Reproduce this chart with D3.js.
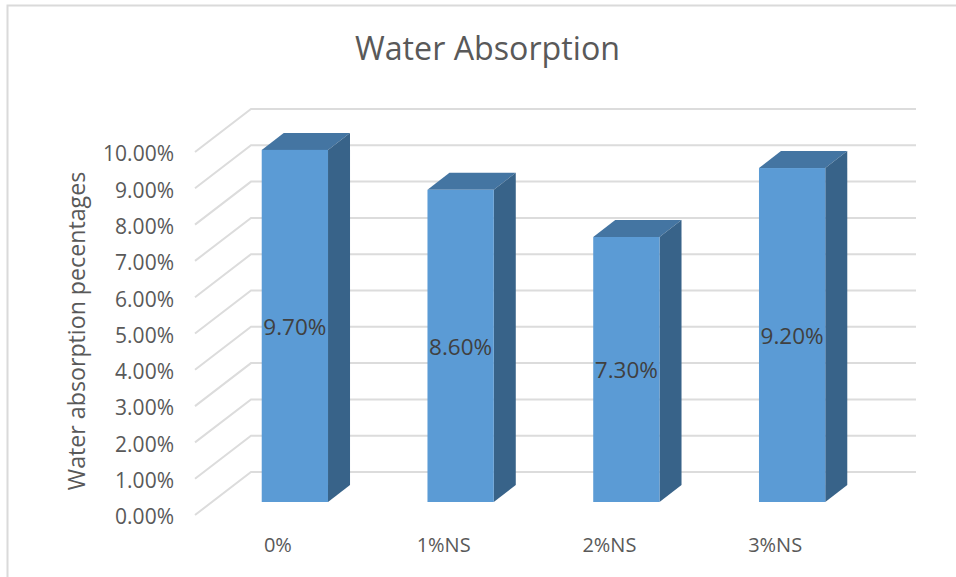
<!DOCTYPE html>
<html><head><meta charset="utf-8"><script src="https://cdn.jsdelivr.net/npm/d3@7"></script>
<style>html,body{margin:0;background:#fff}svg{display:block}text{font-family:"Open Sans",sans-serif}</style></head>
<body><svg id="c" width="956" height="577"></svg>
<script>
const categories=["0%","1%NS","2%NS","3%NS"];
const values=[9.7,8.6,7.3,9.2];
const valueLabels=["9.70%","8.60%","7.30%","9.20%"];
const ticks=[0,1,2,3,4,5,6,7,8,9,10];
const titleText="Water Absorption";
const yTitle="Water absorption pecentages";
const svg=d3.select("#c");
svg.append("path").attr("d","M7.5,577V5.5H956").attr("fill","none").attr("stroke","#dadada").attr("stroke-width",2);
const yBack=d3.scaleLinear().domain([0,10]).range([472,109]);
const yFront=d3.scaleLinear().domain([0,10]).range([515,152]);
const yBar=d3.scaleLinear().domain([0,10]).range([502,139]);
const x=d3.scaleBand().domain(categories).range([212,875]).paddingInner(0.6).paddingOuter(0.3);
const grid=svg.append("g").attr("fill","none").attr("stroke","#dcdcdc").attr("stroke-width",2);
ticks.forEach(t=>{grid.append("path").attr("d",`M195,${yFront(t)}L251,${yBack(t)}H916`);});
svg.append("g").selectAll("text").data(ticks).join("text").attr("x",174).attr("y",d=>yFront(d)+2).attr("text-anchor","end").attr("dy","0.35em").attr("font-size",21).attr("fill","#595959").text(d=>d.toFixed(2)+"%");
const dx=22,dy=17;
const bars=svg.append("g").selectAll("g").data(values).join("g");
bars.each(function(v,i){
 const g=d3.select(this),x0=x(categories[i]),w=x.bandwidth(),top=yBar(v),b=yBar(0);
 g.append("path").attr("d",`M${x0},${top}l${dx},${-dy}h${w}l${-dx},${dy}z`).attr("fill","#4475a2");
 g.append("path").attr("d",`M${x0+w},${top}l${dx},${-dy}V${b-dy}l${-dx},${dy}z`).attr("fill","#386389");
 g.append("rect").attr("x",x0).attr("y",top).attr("width",w).attr("height",b-top).attr("fill","#5b9bd5");
 g.append("text").attr("x",x0+w/2).attr("y",(top+b)/2+1).attr("dy","0.35em").attr("text-anchor","middle").attr("font-size",22.5).attr("fill","#404040").text(valueLabels[i]);
 g.append("text").attr("x",x0+w/2-17).attr("y",545).attr("dy","0.35em").attr("text-anchor","middle").attr("font-size",20).attr("fill","#595959").text(categories[i]);
});
svg.append("text").attr("x",487.5).attr("y",49).attr("dy","0.35em").attr("text-anchor","middle").attr("font-size",32.2).attr("fill","#595959").text(titleText);
svg.append("text").attr("transform","translate(77,331) rotate(-90)").attr("dy","0.35em").attr("text-anchor","middle").attr("font-size",23.2).attr("fill","#595959").text(yTitle);
</script></body></html>
